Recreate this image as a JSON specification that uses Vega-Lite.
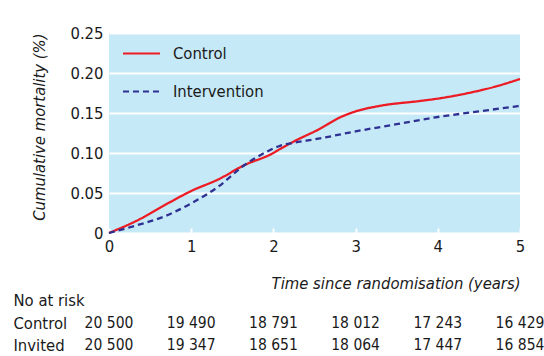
{
  "$schema": "https://vega.github.io/schema/vega-lite/v6.json",
  "padding": {"left": 13, "top": 25, "right": 0, "bottom": 0},
  "autosize": {"type": "pad"},
  "spacing": 0,
  "config": {
    "font": "Liberation Sans Narrow, DejaVu Sans Condensed, sans-serif",
    "view": {"stroke": null},
    "axis": {
      "labelFont": "Liberation Sans Narrow, DejaVu Sans Condensed, sans-serif",
      "titleFont": "Liberation Sans Narrow, DejaVu Sans Condensed, sans-serif",
      "labelFontSize": 16.5,
      "labelColor": "#1a1a1a",
      "titleFontSize": 16.5,
      "titleFontWeight": "normal",
      "titleFontStyle": "italic",
      "titleColor": "#1a1a1a"
    },
    "legend": {
      "labelFont": "Liberation Sans Narrow, DejaVu Sans Condensed, sans-serif"
    },
    "text": {"font": "Liberation Sans Narrow, DejaVu Sans Condensed, sans-serif"}
  },
  "datasets": {
    "curves": [
      {"group": "Control", "t": 0, "m": 0},
      {"group": "Control", "t": 0.35, "m": 0.016},
      {"group": "Control", "t": 0.68, "m": 0.035},
      {"group": "Control", "t": 1.0, "m": 0.0525},
      {"group": "Control", "t": 1.33, "m": 0.067},
      {"group": "Control", "t": 1.65, "m": 0.085},
      {"group": "Control", "t": 1.98, "m": 0.099},
      {"group": "Control", "t": 2.08, "m": 0.105},
      {"group": "Control", "t": 2.26, "m": 0.115},
      {"group": "Control", "t": 2.56, "m": 0.13},
      {"group": "Control", "t": 2.8, "m": 0.144},
      {"group": "Control", "t": 3.0, "m": 0.152},
      {"group": "Control", "t": 3.3, "m": 0.159},
      {"group": "Control", "t": 3.78, "m": 0.165},
      {"group": "Control", "t": 4.0, "m": 0.168},
      {"group": "Control", "t": 4.42, "m": 0.176},
      {"group": "Control", "t": 4.7, "m": 0.183},
      {"group": "Control", "t": 5.0, "m": 0.1925},
      {"group": "Intervention", "t": 0, "m": 0},
      {"group": "Intervention", "t": 0.35, "m": 0.01},
      {"group": "Intervention", "t": 0.68, "m": 0.021},
      {"group": "Intervention", "t": 1.0, "m": 0.037},
      {"group": "Intervention", "t": 1.33, "m": 0.058},
      {"group": "Intervention", "t": 1.65, "m": 0.085},
      {"group": "Intervention", "t": 1.89, "m": 0.1},
      {"group": "Intervention", "t": 2.08, "m": 0.109},
      {"group": "Intervention", "t": 2.26, "m": 0.113},
      {"group": "Intervention", "t": 2.5, "m": 0.117},
      {"group": "Intervention", "t": 3.0, "m": 0.127},
      {"group": "Intervention", "t": 3.5, "m": 0.136},
      {"group": "Intervention", "t": 4.0, "m": 0.145},
      {"group": "Intervention", "t": 4.5, "m": 0.152},
      {"group": "Intervention", "t": 5.0, "m": 0.159}
    ],
    "risk": [
      {"row": "Control", "t": 0, "n": "20 500"},
      {"row": "Control", "t": 1, "n": "19 490"},
      {"row": "Control", "t": 2, "n": "18 791"},
      {"row": "Control", "t": 3, "n": "18 012"},
      {"row": "Control", "t": 4, "n": "17 243"},
      {"row": "Control", "t": 5, "n": "16 429"},
      {"row": "Invited", "t": 0, "n": "20 500"},
      {"row": "Invited", "t": 1, "n": "19 347"},
      {"row": "Invited", "t": 2, "n": "18 651"},
      {"row": "Invited", "t": 3, "n": "18 064"},
      {"row": "Invited", "t": 4, "n": "17 447"},
      {"row": "Invited", "t": 5, "n": "16 854"}
    ]
  },
  "vconcat": [
    {
      "width": 411,
      "height": 200,
      "data": {"name": "curves"},
      "view": {"fill": "#c6e9f8", "stroke": null},
      "mark": {"type": "line", "interpolate": "monotone", "strokeWidth": 2.3},
      "encoding": {
        "x": {
          "field": "t", "type": "quantitative",
          "scale": {"domain": [0, 5], "nice": false},
          "axis": {
            "values": [0, 1, 2, 3, 4, 5],
            "grid": false, "domain": false,
            "tickColor": "white", "tickSize": -5, "tickWidth": 2,
            "labelPadding": 10, "labelFlush": false,
            "title": "Time since randomisation (years)",
            "titleAnchor": "end", "titlePadding": 21
          }
        },
        "y": {
          "field": "m", "type": "quantitative",
          "scale": {"domain": [0, 0.25], "nice": false},
          "axis": {
            "values": [0, 0.05, 0.1, 0.15, 0.2, 0.25],
            "labelExpr": "datum.value == 0 ? '0' : format(datum.value, '.2f')",
            "grid": true, "gridColor": "white", "gridWidth": 2, "gridOpacity": 1,
            "domain": false, "ticks": false, "labelPadding": 6,
            "title": "Cumulative mortality (%)",
            "titleAnchor": "end", "titlePadding": 22
          }
        },
        "color": {
          "field": "group", "type": "nominal",
          "scale": {"domain": ["Control", "Intervention"], "range": ["#ec1c24", "#2e3192"]},
          "legend": {
            "orient": "none", "legendX": 13, "legendY": 1, "title": null,
            "symbolType": "stroke", "symbolSize": 1369, "symbolStrokeWidth": 2,
            "labelFontSize": 16.5, "labelOffset": 12, "rowPadding": 10,
            "labelColor": "#1a1a1a", "padding": 0
          }
        },
        "strokeDash": {
          "field": "group", "type": "nominal",
          "scale": {"domain": ["Control", "Intervention"], "range": [[1, 0], [6, 4]]},
          "legend": {
            "orient": "none", "legendX": 13, "legendY": 1, "title": null,
            "symbolType": "stroke", "symbolSize": 1369, "symbolStrokeWidth": 2,
            "labelFontSize": 16.5, "labelOffset": 12, "rowPadding": 10,
            "labelColor": "#1a1a1a", "padding": 0
          }
        }
      }
    },
    {
      "width": 411,
      "height": 62.3,
      "data": {"name": "risk"},
      "mark": {"type": "text", "fontSize": 15.5, "color": "#1a1a1a"},
      "encoding": {
        "x": {"field": "t", "type": "quantitative", "scale": {"domain": [0, 5], "nice": false}, "axis": null},
        "y": {
          "field": "row", "type": "nominal",
          "scale": {"type": "point", "domain": ["No at risk", "Control", "Invited"], "padding": 0.4},
          "axis": {"title": null, "domain": false, "ticks": false, "labelAlign": "left", "labelPadding": 96, "labelFontSize": 16.5}
        },
        "text": {"field": "n"}
      }
    }
  ]
}
